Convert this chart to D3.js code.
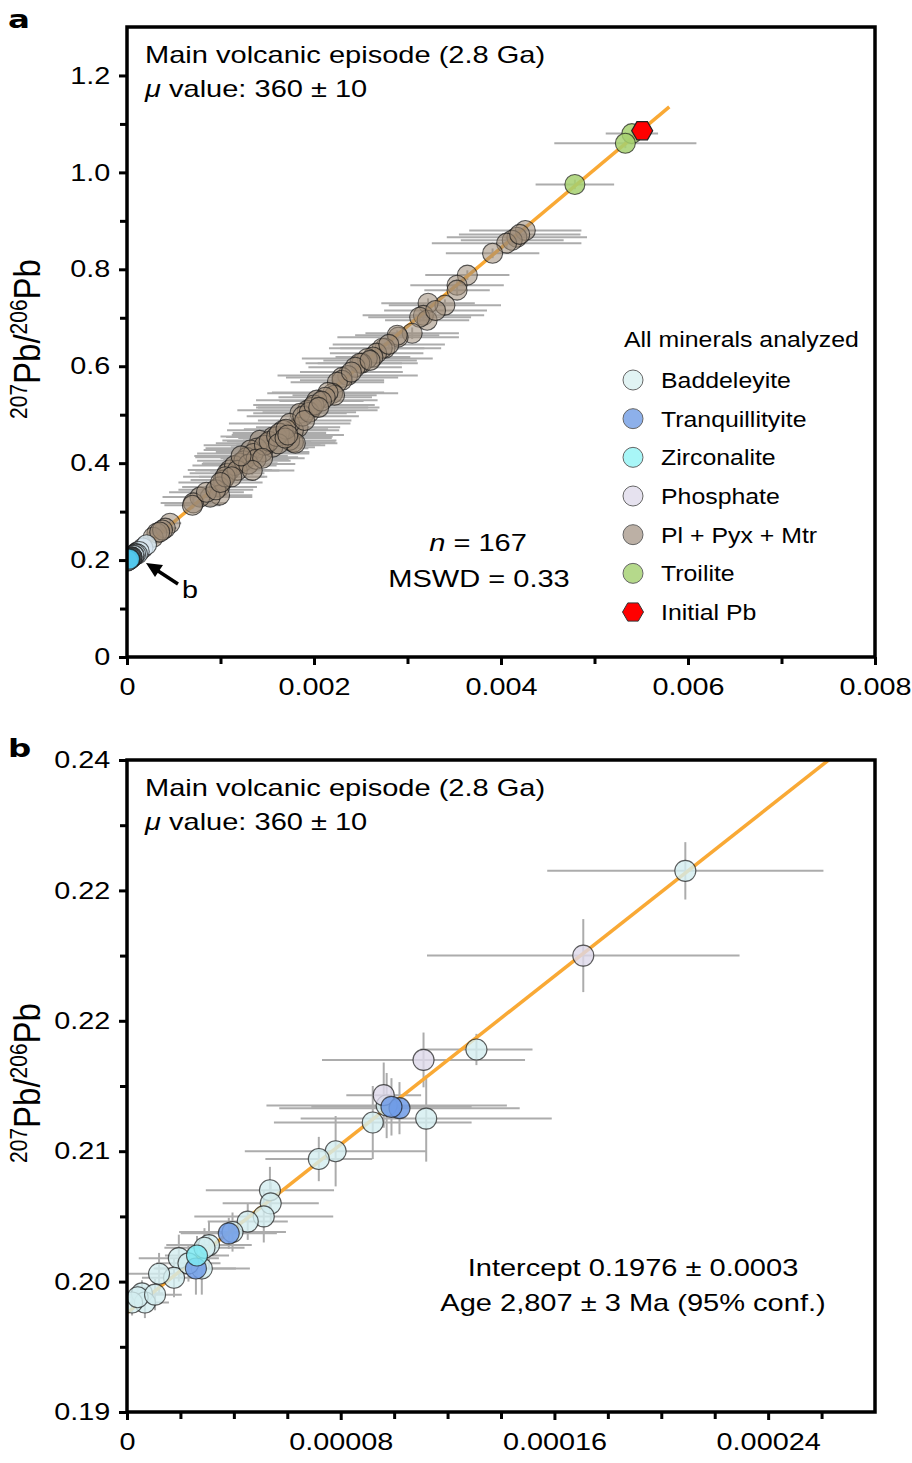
<!DOCTYPE html>
<html><head><meta charset="utf-8">
<script src="https://cdn.jsdelivr.net/npm/d3@7"></script>
<style>
body{margin:0;background:#fff;}
text{font-family:"Liberation Sans",Arial,Helvetica,sans-serif;fill:#000;}
</style></head><body>
<svg id="chart" width="912" height="1463"></svg>
<script>
// ---------------- DATA ----------------
// each point: [x ratio, 207Pb/206Pb, x error, y error]
const plPyxMtr = [
[0.00426,0.880,0.00060,0.012],[0.00417,0.866,0.00075,0.012],[0.00412,0.860,0.00055,0.010],[0.00406,0.854,0.00080,0.012],
[0.00391,0.833,0.00050,0.010],[0.00364,0.788,0.00045,0.010],[0.00353,0.767,0.00050,0.012],[0.00353,0.757,0.00035,0.010],
[0.00340,0.726,0.00060,0.012],[0.00322,0.730,0.00050,0.010],[0.00317,0.705,0.00065,0.012],[0.00321,0.695,0.00045,0.010],
[0.00313,0.701,0.00055,0.010],[0.00305,0.668,0.00050,0.012],[0.00290,0.660,0.00065,0.010],[0.00289,0.664,0.00045,0.010],
[0.00276,0.637,0.00060,0.012],[0.00273,0.637,0.00045,0.010],[0.00267,0.627,0.00050,0.010],[0.00263,0.619,0.00040,0.010],
[0.00257,0.616,0.00070,0.012],[0.00251,0.606,0.00060,0.010],[0.00249,0.606,0.00045,0.010],[0.00244,0.598,0.00050,0.010],
[0.00236,0.581,0.00075,0.012],[0.00230,0.577,0.00060,0.010],[0.00230,0.571,0.00045,0.010],[0.00225,0.567,0.00050,0.010],
[0.00220,0.544,0.00070,0.012],[0.00222,0.540,0.00045,0.010],[0.00215,0.546,0.00060,0.010],[0.00212,0.536,0.00050,0.010],
[0.00203,0.530,0.00065,0.012],[0.00198,0.515,0.00060,0.010],[0.00193,0.509,0.00075,0.012],[0.00185,0.503,0.00050,0.010],
[0.00183,0.474,0.00045,0.010],[0.00178,0.468,0.00035,0.010],[0.00178,0.443,0.00045,0.010],[0.00174,0.482,0.00065,0.012],
[0.00174,0.447,0.00050,0.010],[0.00180,0.441,0.00045,0.010],[0.00167,0.468,0.00060,0.010],[0.00156,0.454,0.00050,0.010],
[0.00156,0.433,0.00045,0.010],[0.00150,0.441,0.00055,0.010],[0.00145,0.423,0.00050,0.010],[0.00142,0.447,0.00040,0.010],
[0.00139,0.431,0.00055,0.010],[0.00132,0.427,0.00050,0.010],[0.00128,0.412,0.00055,0.010],[0.00121,0.400,0.00040,0.010],
[0.00110,0.386,0.00045,0.010],[0.00107,0.379,0.00040,0.010],[0.00103,0.365,0.00035,0.010],[0.00099,0.351,0.00040,0.010],
[0.00099,0.334,0.00035,0.010],[0.00089,0.330,0.00045,0.010],[0.00078,0.330,0.00040,0.010],[0.00071,0.318,0.00035,0.010],
[0.00070,0.313,0.00030,0.008],[0.00046,0.276,0.00012,0.008],[0.00041,0.266,0.00012,0.008],[0.00032,0.256,0.00010,0.006],
[0.00028,0.247,0.00010,0.006],[0.00115,0.395,0.00045,0.010],[0.00125,0.405,0.00050,0.010],[0.00135,0.420,0.00060,0.010],
[0.00147,0.437,0.00065,0.010],[0.00152,0.445,0.00045,0.010],[0.00160,0.455,0.00060,0.010],[0.00163,0.462,0.00050,0.010],
[0.00170,0.470,0.00045,0.010],[0.00188,0.497,0.00060,0.010],[0.00195,0.505,0.00050,0.010],[0.00200,0.520,0.00065,0.012],
[0.00208,0.528,0.00045,0.010],[0.00118,0.385,0.00045,0.010],[0.00130,0.398,0.00050,0.010],[0.00138,0.408,0.00035,0.010],
[0.00145,0.410,0.00045,0.010],[0.00162,0.440,0.00045,0.010],[0.00169,0.452,0.00050,0.010],[0.00085,0.340,0.00040,0.010],
[0.00095,0.345,0.00040,0.010],[0.00105,0.372,0.00045,0.010],[0.00112,0.372,0.00035,0.010],[0.00240,0.588,0.00055,0.010],
[0.00260,0.612,0.00050,0.010],[0.00280,0.645,0.00060,0.010],[0.00330,0.715,0.00055,0.012],[0.00420,0.872,0.00065,0.012],
[0.00038,0.262,0.00012,0.008],[0.00035,0.258,0.00010,0.006],[0.00134,0.385,0.00045,0.010],[0.00172,0.458,0.00060,0.010],
[0.00190,0.488,0.00050,0.010],[0.00205,0.515,0.00065,0.012],[0.00100,0.360,0.00045,0.010],[0.00122,0.415,0.00050,0.010]
];
const troilite = [
[0.00479,0.975,0.00042,0.010],[0.00540,1.080,0.00028,0.010],[0.00533,1.060,0.00076,0.010]
];
const initialPb = [[0.00551,1.086]];

const baddeleyite = [
[0.0002090,0.2315,0.0000517,0.0022],[0.0001308,0.2178,0.0000210,0.0012],[0.0000972,0.2135,0.0000450,0.0025],
[0.0001120,0.2125,0.0000470,0.0033],[0.0000920,0.2122,0.0000370,0.0028],[0.0000781,0.2100,0.0000340,0.0027],
[0.0000718,0.2094,0.0000200,0.0017],[0.0000535,0.2070,0.0000240,0.0018],[0.0000538,0.2060,0.0000180,0.0016],
[0.0000512,0.2050,0.0000260,0.0020],[0.0000452,0.2046,0.0000150,0.0014],[0.0000395,0.2038,0.0000200,0.0015],
[0.0000307,0.2028,0.0000160,0.0018],[0.0000280,0.2010,0.0000180,0.0020],[0.0000290,0.2026,0.0000150,0.0015],
[0.0000194,0.2018,0.0000150,0.0018],[0.0000176,0.2003,0.0000120,0.0015],[0.0000120,0.2006,0.0000120,0.0016],
[0.0000230,0.2014,0.0000120,0.0014],[0.0000056,0.1991,0.0000080,0.0010],[0.0000067,0.1984,0.0000090,0.0012],
[0.0000019,0.1984,0.0000060,0.0010],[0.0000040,0.1988,0.0000060,0.0010],[0.0000105,0.1990,0.0000100,0.0012]
];
const tranquillityite = [
[0.0001020,0.2133,0.0000450,0.0020],[0.0000990,0.2134,0.0000300,0.0022],
[0.0000381,0.2037,0.0000180,0.0012],[0.0000258,0.2010,0.0000150,0.0020]
];
const zirconalite = [[0.0000262,0.2020,0.0000120,0.0015]];
const phosphate = [
[0.0001708,0.2250,0.0000585,0.0028],[0.0001110,0.2170,0.0000380,0.0021],[0.0000961,0.2143,0.0000140,0.0025]
];

const isochronA = [[0,0.1976],[0.0058,1.135]];
const isochronB = [[0,0.1976],[0.00028,0.2428]];

const legendNames = ["Baddeleyite","Tranquillityite","Zirconalite","Phosphate","Pl + Pyx + Mtr","Troilite","Initial Pb"];
const legendColors = ["#e1f3f3","#8db0ea","#a8f6f7","#e6e2ef","#bcb0a5","#b5d98b","#ff0000"];

const xTicksA = [0,0.002,0.004,0.006,0.008], xLabelsA = ["0","0.002","0.004","0.006","0.008"];
const xMinorA = [0.001,0.003,0.005,0.007];
const yTicksA = [0,0.2,0.4,0.6,0.8,1.0,1.2], yLabelsA = ["0","0.2","0.4","0.6","0.8","1.0","1.2"];
const yMinorA = [0.1,0.3,0.5,0.7,0.9,1.1];
const xTicksB = [0,0.00008,0.00016,0.00024], xLabelsB = ["0","0.00008","0.00016","0.00024"];
const xMinorB = [0.00002,0.00004,0.00006,0.0001,0.00012,0.00014,0.00018,0.0002,0.00022,0.00026];
const yTicksB = [0.19,0.20,0.21,0.22,0.23,0.24], yLabelsB = ["0.19","0.20","0.21","0.22","0.22","0.24"];
const yMinorB = [0.195,0.205,0.215,0.225,0.235];

// ---------------- DRAWING ----------------
const SX = 1.2;
const svg = d3.select("#chart");
svg.append("rect").attr("width",912).attr("height",1463).attr("fill","#fff");

function addText(parent, x, y, parts, size, anchor, opts={}) {
  const t = parent.append("text")
    .attr("transform", `translate(${x},${y}) scale(${opts.sx||SX},1)` + (opts.rotate?` rotate(${opts.rotate})`:""))
    .attr("text-anchor", anchor||"start")
    .attr("font-size", size)
    .attr("font-weight", opts.weight||"normal");
  if (opts.family) t.style("font-family", opts.family);
  parts.forEach(p => {
    const ts = t.append("tspan").text(p.t);
    if (p.italic) ts.attr("font-style","italic");
    if (p.size) ts.attr("font-size", p.size);
    if (p.dy) ts.attr("dy", p.dy);
  });
  return t;
}

function hexPath(cx, cy, r) {
  return "M" + d3.range(6).map(k => [cx + r*Math.cos(k*Math.PI/3), cy + r*Math.sin(k*Math.PI/3)]).join("L") + "Z";
}

function drawPanel(cfg) {
  const g = svg.append("g");
  const x = d3.scaleLinear().domain(cfg.xDomain).range([127,875]);
  const y = d3.scaleLinear().domain(cfg.yDomain).range([cfg.bottom, cfg.top]);
  const clipId = "clip" + cfg.id;
  svg.append("clipPath").attr("id",clipId).append("rect")
    .attr("x",127).attr("y",cfg.top).attr("width",748).attr("height",cfg.bottom-cfg.top);
  const plot = g.append("g").attr("clip-path",`url(#${clipId})`);

  const groups = cfg.series;
  const eb = plot.append("g").attr("stroke","#acacac").attr("stroke-width",2);
  groups.forEach(s => {
    s.data.forEach(d => {
      eb.append("line").attr("x1",x(d[0]-d[2])).attr("x2",x(d[0]+d[2])).attr("y1",y(d[1])).attr("y2",y(d[1]));
      eb.append("line").attr("x1",x(d[0])).attr("x2",x(d[0])).attr("y1",y(d[1]-d[3])).attr("y2",y(d[1]+d[3]));
    });
  });
  plot.append("path").datum(cfg.line)
    .attr("d", d3.line().x(d=>x(d[0])).y(d=>y(d[1])))
    .attr("stroke","#f9a935").attr("stroke-width",3.5).attr("fill","none");
  groups.forEach(s => {
    plot.append("g").selectAll("circle").data(s.data).join("circle")
      .attr("cx",d=>x(d[0])).attr("cy",d=>y(d[1])).attr("r",cfg.r)
      .attr("fill",s.color).attr("fill-opacity",s.opacity)
      .attr("stroke","#1a1a1a").attr("stroke-opacity",0.7).attr("stroke-width",1.1);
  });
  if (cfg.hex) {
    plot.append("g").selectAll("path").data(cfg.hex).join("path")
      .attr("d", d => hexPath(x(d[0]), y(d[1]), 10.5))
      .attr("fill","#ff0000").attr("stroke","#222").attr("stroke-width",1.2);
  }

  function styleAxis(sel) {
    sel.select(".domain").remove();
    sel.selectAll(".tick line").attr("stroke","#000").attr("stroke-width",3);
    sel.selectAll(".tick text").attr("font-size",24).attr("fill","#000")
      .attr("font-family","'Liberation Sans',Arial,sans-serif")
      .attr("transform",`scale(${SX},1)`);
  }
  g.append("g").attr("transform",`translate(0,${cfg.bottom})`)
    .call(d3.axisBottom(x).tickValues(cfg.xTicks).tickFormat((d,i)=>cfg.xLabels[i]).tickSize(8).tickPadding(13)).call(styleAxis);
  g.append("g").attr("transform",`translate(0,${cfg.bottom})`)
    .call(d3.axisBottom(x).tickValues(cfg.xMinor).tickFormat("").tickSize(7)).call(styleAxis);
  g.append("g").attr("transform",`translate(127,0)`)
    .call(d3.axisLeft(y).tickValues(cfg.yTicks).tickFormat((d,i)=>cfg.yLabels[i]).tickSize(8).tickPadding(6)).call(styleAxis);
  g.append("g").attr("transform",`translate(127,0)`)
    .call(d3.axisLeft(y).tickValues(cfg.yMinor).tickFormat("").tickSize(7)).call(styleAxis);

  g.append("rect").attr("x",127).attr("y",cfg.top).attr("width",748).attr("height",cfg.bottom-cfg.top)
    .attr("fill","none").attr("stroke","#000").attr("stroke-width",3.5);

  addText(g, 40, (cfg.top+cfg.bottom)/2 - 3, [
    {t:"207", size:21, dy:-12},{t:"Pb/", size:33, dy:12},{t:"206", size:21, dy:-12},{t:"Pb", size:33, dy:12}
  ], 33, "middle", {rotate:-90, sx:1.1});
  addText(svg, 8, cfg.letterY, [{t:cfg.letter}], 25, "start", {weight:"bold", sx:1.3, family:"'DejaVu Sans',sans-serif"});
  addText(g, 145, cfg.top + 36, [{t:"Main volcanic episode (2.8 Ga)"}], 24, "start", {sx:1.21});
  addText(g, 145, cfg.top + 70, [{t:"μ", italic:true},{t:" value: 360 ± 10"}], 24, "start", {sx:1.21});
  return {x, y, g};
}

const A = drawPanel({
  id:"a", letter:"a", letterY:28, top:27, bottom:657,
  xDomain:[0,0.008], yDomain:[0,1.3], r:10,
  xTicks:xTicksA, xLabels:xLabelsA, xMinor:xMinorA, yTicks:yTicksA, yLabels:yLabelsA, yMinor:yMinorA,
  line:isochronA,
  series:[
    {data:plPyxMtr, color:"#9c8a77", opacity:0.55},
    {data:troilite, color:"#a6d070", opacity:0.85},
    {data:tranquillityite, color:"#6f9be6", opacity:0.85},
    {data:phosphate, color:"#ddd8ea", opacity:0.85},
    {data:baddeleyite, color:"#d7e8f2", opacity:0.8},
    {data:zirconalite, color:"#4cc6ec", opacity:0.95}
  ],
  hex:initialPb
});

addText(A.g, 478, 551, [{t:"n", italic:true},{t:" = 167"}], 24, "middle", {sx:1.21});
addText(A.g, 479, 587, [{t:"MSWD = 0.33"}], 24, "middle", {sx:1.21});
A.g.append("line").attr("x1",178).attr("y1",584).attr("x2",155).attr("y2",569)
  .attr("stroke","#000").attr("stroke-width",3.5);
A.g.append("path").attr("d","M146,563 L163,565 L155,577 Z").attr("fill","#000");
addText(A.g, 182, 598, [{t:"b"}], 24, "start");

const lg = A.g.append("g");
addText(lg, 624, 347, [{t:"All minerals analyzed"}], 22, "start", {sx:1.13});
legendNames.forEach((name,i) => {
  const cy = 380 + i*38.67;
  if (name === "Initial Pb") {
    lg.append("path").attr("d", hexPath(633, cy, 10.5))
      .attr("fill",legendColors[i]).attr("stroke","#333").attr("stroke-width",1);
  } else {
    lg.append("circle").attr("cx",633).attr("cy",cy).attr("r",10)
      .attr("fill",legendColors[i]).attr("stroke","#666").attr("stroke-width",1);
  }
  addText(lg, 661, cy + 8, [{t:name}], 22, "start", {sx:1.13});
});

const B = drawPanel({
  id:"b", letter:"b", letterY:757, top:760, bottom:1412,
  xDomain:[0,0.00028], yDomain:[0.19,0.24], r:10.5,
  xTicks:xTicksB, xLabels:xLabelsB, xMinor:xMinorB, yTicks:yTicksB, yLabels:yLabelsB, yMinor:yMinorB,
  line:isochronB,
  series:[
    {data:baddeleyite, color:"#d3edf0", opacity:0.8},
    {data:phosphate, color:"#ddd8ea", opacity:0.8},
    {data:tranquillityite, color:"#6f9be6", opacity:0.85},
    {data:zirconalite, color:"#7ee9f2", opacity:0.85}
  ]
});
addText(B.g, 633, 1276, [{t:"Intercept 0.1976 ± 0.0003"}], 24, "middle", {sx:1.21});
addText(B.g, 633, 1311, [{t:"Age 2,807 ± 3 Ma (95% conf.)"}], 24, "middle", {sx:1.21});
</script>
</body></html>
